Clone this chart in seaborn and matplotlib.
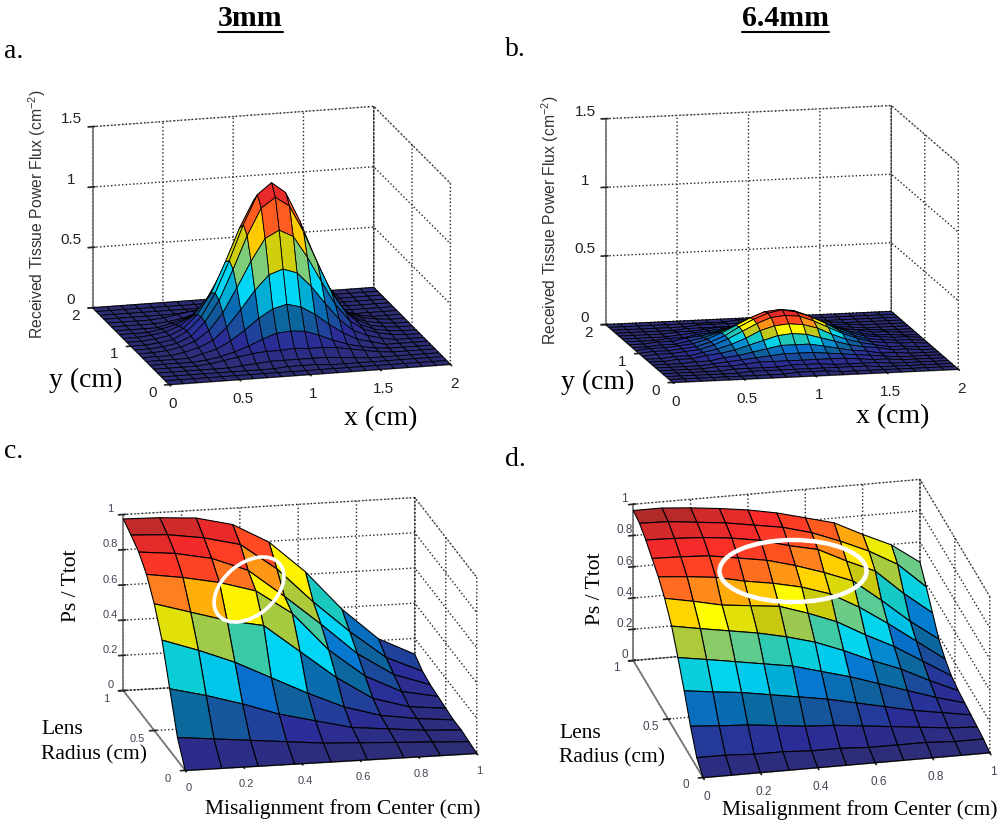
import numpy as np
import matplotlib
matplotlib.use("Agg")
import matplotlib.pyplot as plt
from matplotlib.patches import Ellipse
import seaborn as sns

FW, FH = 1007, 827

# dati
x_flux = [0, .1, .2, .3, .4, .5, .6, .7, .8, .9, 1, 1.1, 1.2, 1.3, 1.4, 1.5, 1.6, 1.7, 1.8, 1.9, 2]
y_flux = x_flux

z_flux_3mm = [
    [0] * 21,
    [0] * 21,
    [0, 0, 0, 0, 0, 0, 0, 0, 0, .01, .01, .01, 0, 0, 0, 0, 0, 0, 0, 0, 0],
    [0, 0, 0, 0, 0, 0, .01, .02, .03, .03, .03, .03, .03, .02, .01, 0, 0, 0, 0, 0, 0],
    [0, 0, 0, 0, .01, .03, .05, .07, .08, .08, .09, .08, .08, .07, .05, .03, .01, 0, 0, 0, 0],
    [0, 0, 0, 0, .01, .03, .06, .10, .15, .19, .20, .19, .15, .10, .06, .03, .01, 0, 0, 0, 0],
    [0, 0, 0, 0, .03, .06, .12, .20, .29, .36, .39, .36, .29, .20, .12, .06, .03, 0, 0, 0, 0],
    [0, 0, 0, .02, .05, .10, .20, .34, .49, .61, .65, .61, .49, .34, .20, .10, .05, .02, 0, 0, 0],
    [0, 0, .01, .03, .07, .15, .29, .49, .70, .88, .94, .88, .70, .49, .29, .15, .07, .03, .01, 0, 0],
    [0, 0, .01, .03, .08, .19, .36, .61, .88, 1.10, 1.18, 1.10, .88, .61, .36, .19, .08, .03, .01, 0, 0],
    [0, 0, .01, .03, .09, .20, .39, .65, .94, 1.18, 1.27, 1.18, .94, .65, .39, .20, .09, .03, .01, 0, 0],
    [0, 0, .01, .03, .08, .19, .36, .61, .88, 1.10, 1.18, 1.10, .88, .61, .36, .19, .08, .03, .01, 0, 0],
    [0, 0, .01, .03, .07, .15, .29, .49, .70, .88, .94, .88, .70, .49, .29, .15, .07, .03, .01, 0, 0],
    [0, 0, 0, .02, .05, .10, .20, .34, .49, .61, .65, .61, .49, .34, .20, .10, .05, .02, 0, 0, 0],
    [0, 0, 0, 0, .03, .06, .12, .20, .29, .36, .39, .36, .29, .20, .12, .06, .03, 0, 0, 0, 0],
    [0, 0, 0, 0, .01, .03, .06, .10, .15, .19, .20, .19, .15, .10, .06, .03, .01, 0, 0, 0, 0],
    [0, 0, 0, 0, .01, .03, .05, .07, .08, .08, .09, .08, .08, .07, .05, .03, .01, 0, 0, 0, 0],
    [0, 0, 0, 0, 0, 0, .01, .02, .03, .03, .03, .03, .03, .02, .01, 0, 0, 0, 0, 0, 0],
    [0, 0, 0, 0, 0, 0, 0, 0, 0, .01, .01, .01, 0, 0, 0, 0, 0, 0, 0, 0, 0],
    [0] * 21,
    [0] * 21,
]

z_flux_64mm = [
    [0] * 21,
    [0, 0, 0, 0, 0, 0, 0, 0, 0, .01, .01, .01, 0, 0, 0, 0, 0, 0, 0, 0, 0],
    [0, 0, 0, 0, 0, 0, .01, .01, .01, .01, .01, .01, .01, .01, .01, 0, 0, 0, 0, 0, 0],
    [0, 0, 0, 0, 0, .01, .01, .01, .01, .02, .02, .02, .01, .01, .01, .01, 0, 0, 0, 0, 0],
    [0, 0, 0, 0, .01, .01, .02, .03, .03, .03, .03, .03, .03, .03, .02, .01, .01, 0, 0, 0, 0],
    [0, 0, 0, 0, .01, .02, .03, .04, .05, .06, .06, .06, .05, .04, .03, .02, .01, 0, 0, 0, 0],
    [0, 0, 0, .01, .01, .03, .04, .06, .08, .10, .10, .10, .08, .06, .04, .03, .01, .01, 0, 0, 0],
    [0, 0, .01, .01, .03, .04, .06, .09, .12, .15, .16, .15, .12, .09, .06, .04, .03, .01, .01, 0, 0],
    [0, 0, .01, .01, .03, .05, .08, .12, .17, .20, .21, .20, .17, .12, .08, .05, .03, .01, .01, 0, 0],
    [0, .01, .01, .02, .03, .06, .10, .15, .20, .24, .25, .24, .20, .15, .10, .06, .03, .02, .01, .01, 0],
    [0, .01, .01, .02, .03, .06, .10, .16, .21, .25, .27, .25, .21, .16, .10, .06, .03, .02, .01, .01, 0],
    [0, .01, .01, .02, .03, .06, .10, .15, .20, .24, .25, .24, .20, .15, .10, .06, .03, .02, .01, .01, 0],
    [0, 0, .01, .01, .03, .05, .08, .12, .17, .20, .21, .20, .17, .12, .08, .05, .03, .01, .01, 0, 0],
    [0, 0, .01, .01, .03, .04, .06, .09, .12, .15, .16, .15, .12, .09, .06, .04, .03, .01, .01, 0, 0],
    [0, 0, 0, .01, .01, .03, .04, .06, .08, .10, .10, .10, .08, .06, .04, .03, .01, .01, 0, 0, 0],
    [0, 0, 0, 0, .01, .02, .03, .04, .05, .06, .06, .06, .05, .04, .03, .02, .01, 0, 0, 0, 0],
    [0, 0, 0, 0, .01, .01, .02, .03, .03, .03, .03, .03, .03, .03, .02, .01, .01, 0, 0, 0, 0],
    [0, 0, 0, 0, 0, .01, .01, .01, .01, .02, .02, .02, .01, .01, .01, .01, 0, 0, 0, 0, 0],
    [0, 0, 0, 0, 0, 0, .01, .01, .01, .01, .01, .01, .01, .01, .01, 0, 0, 0, 0, 0, 0],
    [0, 0, 0, 0, 0, 0, 0, 0, 0, .01, .01, .01, 0, 0, 0, 0, 0, 0, 0, 0, 0],
    [0] * 21,
]

misalign_c = [0, .125, .25, .375, .5, .625, .75, .875, 1]
radius_c = [0, .125, .25, .375, .5, .625, .75, .875, 1]
ratio_c = [
    [0, 0, 0, 0, 0, 0, 0, 0, 0],
    [.13, .11, .09, .07, .05, .04, .03, .02, .01],
    [.35, .30, .24, .17, .12, .07, .05, .03, .02],
    [.57, .50, .42, .32, .22, .13, .07, .04, .02],
    [.72, .66, .60, .56, .40, .24, .11, .05, .03],
    [.83, .80, .76, .70, .56, .34, .18, .08, .04],
    [.90, .88, .84, .76, .60, .43, .25, .12, .05],
    [.94, .93, .90, .85, .70, .50, .32, .16, .07],
    [.975, .97, .956, .907, .795, .614, .39, .21, .11],
]

misalign_d = [0, .1, .2, .3, .4, .5, .6, .7, .8, .9, 1]
radius_d = [0, .09, .18, .27, .36, .45, .55, .64, .73, .82, .91, 1]
ratio_d = [
    [0, 0, 0, 0, 0, 0, 0, 0, 0, 0, 0],
    [.06, .06, .05, .05, .04, .04, .03, .03, .03, .02, .02],
    [.194, .18, .17, .15, .13, .12, .10, .08, .06, .04, .03],
    [.353, .33, .31, .28, .25, .22, .18, .14, .10, .07, .04],
    [.498, .47, .44, .41, .38, .33, .28, .22, .16, .10, .05],
    [.632, .60, .57, .54, .50, .45, .38, .30, .23, .14, .06],
    [.735, .70, .66, .64, .62, .56, .49, .39, .30, .19, .08],
    [.805, .79, .77, .73, .70, .66, .60, .50, .38, .25, .12],
    [.855, .85, .84, .81, .78, .73, .67, .60, .46, .31, .18],
    [.906, .90, .89, .87, .84, .79, .75, .66, .58, .42, .28],
    [.945, .94, .92, .90, .87, .84, .79, .72, .64, .54, .38],
    [.96, .96, .945, .925, .90, .865, .818, .77, .68, .597, .47],
]

sns.set_theme(style="white", rc={
    "grid.color": "#222222",
    "grid.linestyle": ":",
    "grid.linewidth": 1.0,
    "mathtext.default": "regular",
})
plt.rcParams["font.family"] = ["Liberation Sans", "DejaVu Sans"]

# mappa tipo jet, un po' spenta come nello screenshot
cmap_stops = [
    (0.00, "#2d2d75"), (0.10, "#2b2d98"), (0.23, "#0a6a9e"), (0.30, "#0870d0"),
    (0.34, "#00a8d0"), (0.39, "#00d8f8"), (0.46, "#10c8c8"), (0.53, "#80cc78"),
    (0.60, "#c8c810"), (0.66, "#ffff00"), (0.71, "#ffc000"), (0.77, "#ff8020"),
    (0.82, "#ff5020"), (0.90, "#fb2a2a"), (0.96, "#d82a2a"), (1.00, "#a82a2a"),
]
surf_cmap = matplotlib.colors.LinearSegmentedColormap.from_list("screen_jet", cmap_stops)

fig = plt.figure(figsize=(FW / 100, FH / 100), dpi=100, facecolor="white")


def surface_panel(x, y, z, centre, aspect, elev, azim, xticks, yticks, zticks, zlabels,
                  tick_size, tick_color, edge_width, zpad):
    z = np.array(z)
    ax = fig.add_subplot(projection="3d", proj_type="ortho")
    # la dimensione dell'asse dipende dal box_aspect, cosi' la scala in pixel torna
    w = np.linalg.norm(aspect) / 1.03
    ax.set_position([(centre[0] - .5135 * w) / FW, (FH - centre[1] - .5135 * w) / FH, w / FW, w / FH])
    ax.set_box_aspect(aspect)
    ax.view_init(elev=elev, azim=azim)
    ax.patch.set_visible(False)
    X, Y = np.meshgrid(x, y)
    ax.plot_surface(X, Y, z, cmap=surf_cmap, vmin=0, vmax=z.max(), rstride=1, cstride=1,
                    edgecolor="black", linewidth=edge_width, shade=False)
    ax.set_xlim(xticks[0], xticks[-1], view_margin=0)
    ax.set_ylim(yticks[0], yticks[-1], view_margin=0)
    ax.set_zlim(zticks[0], zticks[-1], view_margin=0)
    ax.set_xticks(xticks, [f"{t:g}" for t in xticks])
    ax.set_yticks(yticks, [f"{t:g}" for t in yticks])
    ax.set_zticks(zticks, zlabels)
    ax.tick_params(axis="both", labelsize=tick_size, labelcolor=tick_color, pad=2)
    ax.tick_params(axis="x", pad=0)
    ax.tick_params(axis="z", pad=zpad)
    # matlab mette le etichette piu' in alto rispetto a mplot3d
    for axis in (ax.yaxis, ax.zaxis):
        for tick in axis.get_major_ticks():
            tick.label1.set_va("baseline")
    for axis in (ax.xaxis, ax.yaxis, ax.zaxis):
        axis.pane.set_facecolor("white")
        axis.pane.set_edgecolor("#555555")
        axis.pane.set_linestyle((0, (3, 2)))
        axis.pane.set_linewidth(0.8)
        axis.line.set_color("#777777")
    return ax


surface_panel(x_flux, y_flux, z_flux_3mm, (271.5, 245.5), (291, 296, 188), 15.6, -105,
              [0, .5, 1, 1.5, 2], [0, 1, 2], [0, .5, 1, 1.5], ["0", "0.5", "1", "1.5"],
              11, "#222222", 0.6, 2)
surface_panel(x_flux, y_flux, z_flux_64mm, (782, 244), (293, 298, 210), 11.5, -103,
              [0, .5, 1, 1.5, 2], [0, 1, 2], [0, .5, 1, 1.5], ["0", "0.5", "1", "1.5"],
              11, "#222222", 0.6, 2)
surface_panel(misalign_c, radius_c, ratio_c, (300, 634), (298, 298, 183), 15.9, -102,
              [0, .2, .4, .6, .8, 1], [0, .5, 1], [0, .2, .4, .6, .8, 1],
              ["0", "0.2", "0.4", "0.6", "0.8", "1"], 8, "#444455", 0.8, -2)
surface_panel(misalign_d, radius_d, ratio_d, (811.5, 628.5), (294, 315, 169), 22.4, -102.8,
              [0, .2, .4, .6, .8, 1], [0, .5, 1], [0, .2, .4, .6, .8, 1],
              ["0", "0.2", "0.4", "0.6", "0.8", "1"], 8.5, "#444455", 0.8, -4)

# testi e ellissi in coordinate pixel sopra ai pannelli
over = fig.add_axes([0, 0, 1, 1], zorder=10)
over.set_xlim(0, FW)
over.set_ylim(FH, 0)
over.axis("off")
serif = ["Liberation Serif", "DejaVu Serif"]

for label, x0, x1 in [("3mm", 218, 283), ("6.4mm", 742, 829)]:
    over.text((x0 + x1) / 2, 19, label, family=serif, weight="bold", size=21.5, ha="center", va="center", color="black")
    over.plot([x0, x1], [32, 32], color="black", lw=1.5)

for label, x, y in [("a.", 4, 52), ("b.", 505, 50), ("c.", 4, 451), ("d.", 505, 459)]:
    over.text(x, y, label, family=serif, size=20, ha="left", va="center", color="black")

for text, x, y in [("y (cm)", 86, 380), ("x (cm)", 381, 419), ("y (cm)", 598, 382), ("x (cm)", 893, 417)]:
    over.text(x, y, text, family=serif, size=20, ha="center", va="center", color="black")

over.text(37, 214, r"Received Tissue Power Flux (cm$^{-2}$)", rotation=90, size=11.3, ha="center", va="center", color="#333333")
over.text(550, 220, r"Received Tissue Power Flux (cm$^{-2}$)", rotation=90, size=11.3, ha="center", va="center", color="#333333")

over.text(72, 586, "Ps / Ttot", family=serif, rotation=90, size=15.5, ha="center", va="center", color="black")
over.text(596, 589, "Ps / Ttot", family=serif, rotation=90, size=15.5, ha="center", va="center", color="black")
over.text(41, 729, "Lens", family=serif, size=15.5, ha="left", va="center", color="black")
over.text(41, 755, "Radius (cm)", family=serif, size=15.5, ha="left", va="center", color="black")
over.text(559, 733, "Lens", family=serif, size=15.5, ha="left", va="center", color="black")
over.text(559, 758, "Radius (cm)", family=serif, size=15.5, ha="left", va="center", color="black")
over.text(343, 809, "Misalignment from Center (cm)", family=serif, size=15.5, ha="center", va="center", color="black")
over.text(860, 810, "Misalignment from Center (cm)", family=serif, size=15.5, ha="center", va="center", color="black")

over.add_patch(Ellipse((249, 589.5), 80, 52, angle=-40, fill=False, edgecolor="white", lw=2.6))
over.add_patch(Ellipse((793, 571), 147, 62, angle=0, fill=False, edgecolor="white", lw=3.2))

fig.savefig("out.png", dpi=100)
